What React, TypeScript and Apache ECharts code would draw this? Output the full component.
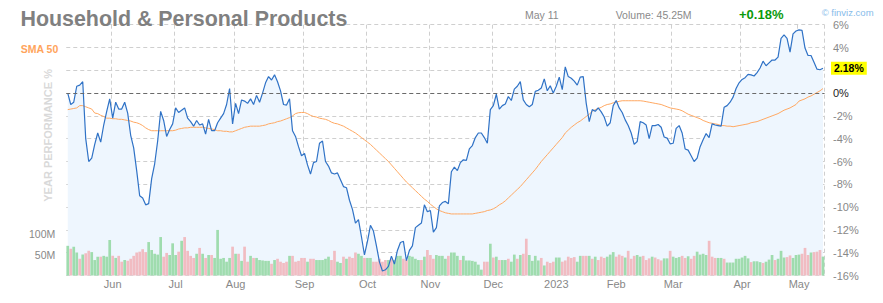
import React, { useEffect, useRef } from 'react';
import * as echarts from 'echarts';

const FONT = '"Liberation Sans", Arial, Helvetica, sans-serif';

const TITLE = 'Household & Personal Products';
const HEADER_DATE = 'May 11';
const HEADER_VOLUME = 'Volume: 45.25M';
const HEADER_CHANGE = '+0.18%';
const CREDIT = '© finviz.com';
const SMA_LABEL = 'SMA 50';
const Y_NAME = 'YEAR PERFORMANCE %';

const FIRST_DAY = '2022-05-10';
const LAST_DAY = '2023-05-11';
const HOLIDAYS = ['2022-05-30', '2022-06-20', '2022-07-04', '2022-09-05', '2022-11-24', '2022-12-26', '2023-01-02', '2023-01-16', '2023-02-20', '2023-04-07'];
const MONTHS = ['Jan', 'Feb', 'Mar', 'Apr', 'May', 'Jun', 'Jul', 'Aug', 'Sep', 'Oct', 'Nov', 'Dec'];

// performance %, one per trading day
const performance = [
  0.0, -1.0, -0.8, 0.6, 0.7, 1.0, -4.0, -6.0, -5.7, -4.5,
  -3.5, -4.3, -2.8, -1.6, -0.5, -2.2, -0.8, -1.4, -1.4, -0.8,
  -1.75, -3.7, -4.8, -6.8, -9.0, -9.2, -9.8, -9.7, -7.5, -6.2,
  -4.2, -1.6, -2.4, -3.8, -3.2, -2.7, -1.3, -1.7, -1.5, -1.3,
  -2.2, -2.5, -2.9, -2.4, -2.8, -2.7, -3.6, -2.3, -3.3, -3.3,
  -2.6, -2.2, -1.8, -1.0, 0.4, -2.7, -0.9, -1.8, -0.6, -0.7,
  -0.9, -0.5, -1.0, -0.2, -0.8, 0.0, 0.9, 1.45, 1.15, 1.6,
  1.0, 0.2, -1.0, -1.05, -0.5, -3.3, -3.8, -4.7, -5.5, -5.3,
  -6.3, -7.1, -6.1, -6.0, -4.4, -4.2, -6.0, -6.4, -7.0, -7.1,
  -7.0, -7.6, -8.2, -8.3, -9.4, -10.2, -11.4, -11.1, -12.6, -14.2,
  -13.0, -11.6, -12.1, -13.4, -14.8, -15.6, -15.5, -15.2, -14.3, -15.0,
  -13.8, -13.1, -13.0, -14.7, -13.8, -13.4, -11.8, -11.6, -11.4, -9.8,
  -10.4, -10.3, -12.2, -11.8, -9.9, -9.6, -9.5, -9.7, -6.9, -6.5,
  -6.8, -6.1, -5.85, -5.9, -4.9, -4.6, -3.9, -3.5, -3.5, -3.9,
  -4.4, -1.45, -1.1, -0.1, -1.4, -1.1, -0.95, -0.3, -0.65, 0.35,
  0.6, 1.0, -0.6, -1.0, -1.2, -1.0, 0.15, 0.25, 0.45, 1.25,
  0.2, 0.65, 0.0, 0.6, 1.4, 0.3, 2.3, 1.45, 1.3, 1.05,
  0.7, 1.4, 1.45, -0.9, -2.5, -1.45, -1.6, -1.3, -1.65, -2.1,
  -2.9, -2.6, -1.1, -0.65, -1.3, -1.7, -2.35, -2.85, -3.5, -4.5,
  -4.25, -2.5, -2.6, -2.8, -4.0, -2.85, -2.85, -2.75, -3.0, -3.85,
  -3.95, -4.45, -4.4, -3.1, -2.85, -3.5, -4.9, -5.0, -5.5, -6.0,
  -5.7, -4.7, -4.1, -3.55, -3.9, -2.7, -2.8, -2.85, -2.9, -1.25,
  -1.1, -0.8, -0.35, 0.4, 0.9, 1.2, 1.35, 1.65, 1.6, 1.5,
  1.8, 2.2, 2.8, 2.4, 2.65, 2.9, 2.9, 3.15, 4.8, 5.1,
  4.8, 3.6, 5.2, 5.45, 5.55, 5.5, 3.95, 3.3, 3.3, 2.7,
  2.1, 2.05, 2.18,
];

// SMA 50 of the performance, %
const sma50 = [
  -1.45, -1.4, -1.35, -1.3, -1.1, -1.1, -1.2, -1.3, -1.4, -1.75,
  -1.8, -1.95, -2.05, -2.2, -2.2, -2.25, -2.25, -2.3, -2.3, -2.35,
  -2.4, -2.45, -2.55, -2.6, -2.7, -2.85, -3.05, -3.2, -3.3, -3.3,
  -3.3, -3.3, -3.3, -3.3, -3.3, -3.3, -3.25, -3.15, -3.1, -3.05,
  -3.05, -3.0, -3.0, -3.0, -3.0, -3.0, -3.05, -3.1, -3.15, -3.2,
  -3.3, -3.3, -3.35, -3.35, -3.4, -3.4, -3.3, -3.2, -3.1, -3.0,
  -2.95, -2.9, -2.9, -2.9, -2.9, -2.85, -2.8, -2.7, -2.65, -2.6,
  -2.5, -2.45, -2.35, -2.25, -2.15, -2.0, -1.8, -1.72, -1.7, -1.7,
  -1.8, -1.95, -2.05, -2.1, -2.2, -2.25, -2.3, -2.4, -2.55, -2.65,
  -2.7, -2.8, -2.9, -3.05, -3.2, -3.35, -3.5, -3.7, -3.9, -4.1,
  -4.3, -4.5, -4.75, -5.0, -5.25, -5.5, -5.75, -6.0, -6.3, -6.6,
  -6.9, -7.2, -7.5, -7.8, -8.05, -8.3, -8.55, -8.8, -9.05, -9.3,
  -9.5, -9.75, -9.95, -10.15, -10.3, -10.4, -10.5, -10.55, -10.6, -10.6,
  -10.6, -10.6, -10.6, -10.6, -10.6, -10.6, -10.55, -10.5, -10.45, -10.4,
  -10.3, -10.25, -10.15, -10.0, -9.8, -9.65, -9.45, -9.2, -8.95, -8.7,
  -8.45, -8.2, -7.9, -7.6, -7.3, -7.0, -6.7, -6.35, -6.0, -5.7,
  -5.4, -5.1, -4.8, -4.5, -4.2, -3.9, -3.5, -3.25, -3.0, -2.8,
  -2.6, -2.45, -2.25, -2.05, -1.85, -1.6, -1.45, -1.35, -1.25, -1.1,
  -1.0, -0.95, -0.85, -0.8, -0.72, -0.67, -0.67, -0.67, -0.67, -0.67,
  -0.67, -0.67, -0.7, -0.75, -0.8, -0.85, -0.9, -0.95, -1.0, -1.1,
  -1.2, -1.3, -1.35, -1.4, -1.45, -1.55, -1.7, -1.85, -1.95, -2.05,
  -2.15, -2.25, -2.4, -2.5, -2.6, -2.65, -2.7, -2.75, -2.85, -2.85,
  -2.9, -2.9, -2.95, -2.9, -2.85, -2.8, -2.75, -2.7, -2.6, -2.55,
  -2.5, -2.4, -2.3, -2.2, -2.1, -2.0, -1.9, -1.8, -1.65, -1.5,
  -1.4, -1.3, -1.15, -1.0, -0.7, -0.6, -0.5, -0.35, -0.25, -0.1,
  0.05, 0.2, 0.4,
];

// volume, millions of shares
const volume = [
  71, 64, 69, 55, 40, 50, 53, 59, 56, 37,
  45, 45, 47, 45, 85, 47, 42, 47, 33, 37,
  35, 40, 47, 55, 57, 63, 56, 80, 61, 52,
  50, 92, 45, 54, 49, 77, 49, 57, 83, 92,
  59, 47, 42, 52, 66, 52, 42, 49, 49, 42,
  109, 40, 42, 33, 42, 69, 52, 52, 35, 69,
  33, 47, 42, 42, 37, 36, 35, 35, 28, 37,
  40, 33, 30, 33, 47, 47, 33, 35, 42, 42,
  33, 40, 40, 37, 37, 37, 40, 45, 37, 59,
  33, 30, 45, 40, 45, 42, 55, 52, 47, 42,
  42, 42, 33, 33, 40, 33, 37, 37, 40, 37,
  47, 47, 40, 37, 47, 45, 40, 37, 37, 45,
  61, 49, 40, 49, 47, 47, 40, 47, 55, 55,
  47, 37, 47, 36, 36, 35, 33, 26, 14, 33,
  33, 76, 43, 45, 37, 37, 37, 40, 33, 50,
  40, 49, 52, 88, 49, 35, 47, 36, 42, 24,
  33, 30, 33, 43, 43, 33, 36, 45, 42, 44,
  33, 47, 47, 47, 47, 40, 45, 37, 45, 42,
  45, 50, 56, 45, 50, 47, 43, 59, 40, 47,
  49, 45, 47, 37, 41, 45, 43, 39, 36, 41,
  41, 59, 45, 42, 44, 47, 42, 46, 40, 47,
  57, 50, 52, 49, 83, 45, 42, 42, 42, 40,
  31, 31, 31, 40, 40, 43, 47, 41, 32, 34,
  34, 32, 30, 33, 38, 49, 37, 40, 59, 43,
  44, 48, 42, 49, 50, 52, 66, 49, 55, 56,
  57, 61, 45.25,
];

// 1 = up day (green bar), 0 = down day (pink bar)
const upDay = [
  1, 0, 1, 1, 0, 1, 0, 0, 1, 1,
  1, 0, 1, 1, 1, 0, 1, 0, 0, 1,
  0, 0, 0, 0, 0, 0, 0, 1, 1, 1,
  1, 1, 0, 0, 1, 1, 1, 0, 1, 0,
  0, 0, 0, 1, 0, 1, 0, 1, 0, 1,
  1, 1, 1, 1, 1, 0, 1, 0, 1, 0,
  0, 1, 0, 1, 1, 1, 1, 1, 0, 1,
  0, 0, 0, 0, 1, 0, 0, 0, 0, 0,
  1, 0, 0, 1, 1, 1, 1, 1, 0, 0,
  1, 1, 0, 1, 0, 0, 0, 1, 1, 0,
  1, 1, 0, 0, 0, 0, 0, 1, 0, 1,
  1, 1, 0, 0, 1, 1, 1, 1, 0, 1,
  0, 0, 0, 1, 1, 1, 1, 0, 1, 1,
  1, 0, 1, 1, 1, 1, 1, 1, 1, 0,
  0, 1, 0, 1, 0, 1, 1, 0, 1, 1,
  0, 1, 0, 0, 1, 1, 1, 1, 0, 1,
  0, 0, 0, 1, 1, 0, 0, 0, 0, 0,
  1, 1, 0, 0, 1, 0, 1, 0, 0, 0,
  1, 1, 1, 0, 0, 0, 1, 0, 0, 0,
  1, 1, 0, 0, 0, 1, 0, 0, 0, 1,
  1, 0, 1, 1, 1, 0, 0, 1, 0, 0,
  1, 1, 1, 1, 0, 0, 0, 1, 1, 0,
  1, 1, 1, 1, 1, 1, 1, 1, 0, 1,
  1, 1, 0, 1, 1, 1, 0, 1, 1, 1,
  0, 0, 1, 1, 1, 0, 0, 0, 1, 0,
  0, 0, 1,
];

const VOLUME_TICKS_SHOWN = [50, 100];

function buildTradingDays(): string[] {
  const out: string[] = [];
  const [y0, m0, d0] = FIRST_DAY.split('-').map(Number);
  const [y1, m1, d1] = LAST_DAY.split('-').map(Number);
  const d = new Date(Date.UTC(y0, m0 - 1, d0));
  const end = Date.UTC(y1, m1 - 1, d1);
  while (d.getTime() <= end) {
    const wd = d.getUTCDay();
    const s = d.toISOString().slice(0, 10);
    if (wd !== 0 && wd !== 6 && HOLIDAYS.indexOf(s) < 0) out.push(s);
    d.setUTCDate(d.getUTCDate() + 1);
  }
  return out;
}

const GREEN = '#9fdcae';
const PINK = '#f1bcc2';
const GRID_COLOR = '#cfcfcf';
const DASH = [4, 3];

export default function App() {
  const ref = useRef<HTMLDivElement>(null);

  useEffect(() => {
    if (!ref.current) return;
    const chart = echarts.init(ref.current, undefined, { renderer: 'svg' });
    const dates = buildTradingDays();
    const monthOf = (i: number) => Number(dates[i].slice(5, 7)) - 1;
    const isMonthStart = (i: number) => i > 0 && i < dates.length && monthOf(i) !== monthOf(i - 1);
    const last = performance[performance.length - 1];

    const option: any = {
      animation: false,
      textStyle: { fontFamily: FONT },
      grid: { left: 66.25, right: 58.5, top: 24.7, bottom: 27.5, containLabel: false },
      xAxis: {
        type: 'category',
        data: dates,
        boundaryGap: true,
        axisLine: { show: false },
        axisTick: { show: false },
        axisLabel: {
          interval: (i: number) => isMonthStart(i),
          formatter: (v: string) => {
            const m = Number(v.slice(5, 7)) - 1;
            return m === 0 ? v.slice(0, 4) : MONTHS[m];
          },
          color: '#888',
          fontSize: 11,
          margin: 3,
          fontFamily: FONT,
        },
        splitLine: {
          show: true,
          interval: (i: number) => isMonthStart(i),
          lineStyle: { color: GRID_COLOR, type: DASH, width: 1 },
        },
      },
      yAxis: [
        {
          type: 'value',
          position: 'right',
          min: -16,
          max: 6,
          interval: 2,
          axisLine: { show: false },
          axisTick: { show: false },
          axisLabel: {
            formatter: (v: number) => (Number(v) === 2 ? '' : v + '%'),
            color: (v: any) => (Number(v) === 0 ? '#222' : '#888'),
            fontSize: 11,
            margin: 8.5,
            fontFamily: FONT,
          },
          splitLine: { show: true, lineStyle: { color: GRID_COLOR, type: DASH, width: 1 } },
        },
        {
          type: 'value',
          position: 'left',
          min: 0,
          max: 600,
          interval: 50,
          axisLine: { show: false },
          axisTick: { show: false },
          splitLine: { show: false },
          axisLabel: {
            formatter: (v: number) => (VOLUME_TICKS_SHOWN.indexOf(Number(v)) >= 0 ? v + 'M' : ''),
            color: '#888',
            fontSize: 10.5,
            margin: 11,
            fontFamily: FONT,
          },
        },
      ],
      series: [
        {
          type: 'line',
          yAxisIndex: 0,
          data: performance,
          symbol: 'none',
          silent: true,
          lineStyle: { opacity: 0, width: 0 },
          areaStyle: { color: '#eef6fe', opacity: 1, origin: 'start' },
          z: 1,
        },
        {
          type: 'bar',
          yAxisIndex: 1,
          data: volume.map((v, i) => ({ value: v, itemStyle: { color: upDay[i] ? GREEN : PINK } })),
          barCategoryGap: '10%',
          silent: true,
          z: 2,
        },
        {
          type: 'line',
          yAxisIndex: 0,
          data: sma50,
          symbol: 'none',
          silent: true,
          lineStyle: { color: '#ffa862', width: 1 },
          z: 3,
        },
        {
          type: 'line',
          yAxisIndex: 0,
          data: performance,
          symbol: 'none',
          silent: true,
          lineStyle: { color: '#2f72c6', width: 1.2 },
          z: 4,
          endLabel: {
            show: true,
            formatter: () => last.toFixed(2) + '%',
            backgroundColor: '#ffff00',
            color: '#000',
            fontSize: 10.5,
            fontWeight: 'bold',
            fontFamily: FONT,
            padding: [1, 3, 1, 3],
            distance: 8,
          },
          markLine: {
            silent: true,
            symbol: 'none',
            label: { show: false },
            lineStyle: { color: '#6a6a6a', type: DASH, width: 1 },
            data: [{ yAxis: 0 }],
          },
        },
      ],
      graphic: [
        {
          type: 'text',
          x: 20.5,
          y: 18.5,
          z: 10,
          style: { text: TITLE, font: `bold 21.4px ${FONT}`, fill: '#808080', textAlign: 'left', textVerticalAlign: 'middle' },
        },
        {
          type: 'text',
          x: 20.7,
          y: 48.8,
          z: 10,
          style: { text: SMA_LABEL, font: `bold 10.5px ${FONT}`, fill: '#ffa45c', textAlign: 'left', textVerticalAlign: 'middle' },
        },
        {
          type: 'text',
          x: 47.8,
          y: 135.4,
          rotation: Math.PI / 2,
          z: 10,
          style: { text: Y_NAME, font: `bold 11px ${FONT}`, fill: '#d9d9d9', textAlign: 'center', textVerticalAlign: 'middle' },
        },
        {
          type: 'text',
          x: 525,
          y: 15,
          z: 10,
          style: { text: HEADER_DATE, font: `10.5px ${FONT}`, fill: '#8a8a8a', textAlign: 'left', textVerticalAlign: 'middle' },
        },
        {
          type: 'text',
          x: 615.7,
          y: 15,
          z: 10,
          style: { text: HEADER_VOLUME, font: `10.5px ${FONT}`, fill: '#8a8a8a', textAlign: 'left', textVerticalAlign: 'middle' },
        },
        {
          type: 'text',
          x: 739,
          y: 14.7,
          z: 10,
          style: { text: HEADER_CHANGE, font: `bold 13px ${FONT}`, fill: '#0b9a0b', textAlign: 'left', textVerticalAlign: 'middle' },
        },
        {
          type: 'text',
          x: 821.7,
          y: 12,
          z: 10,
          style: { text: CREDIT, font: `9.5px ${FONT}`, fill: '#86bbea', textAlign: 'left', textVerticalAlign: 'middle' },
        },
      ],
    };

    chart.setOption(option);
    return () => chart.dispose();
  }, []);

  return (
    <div
      ref={ref}
      style={{ position: 'absolute', left: 0, top: 0, width: 883, height: 303, background: '#fff' }}
    />
  );
}
